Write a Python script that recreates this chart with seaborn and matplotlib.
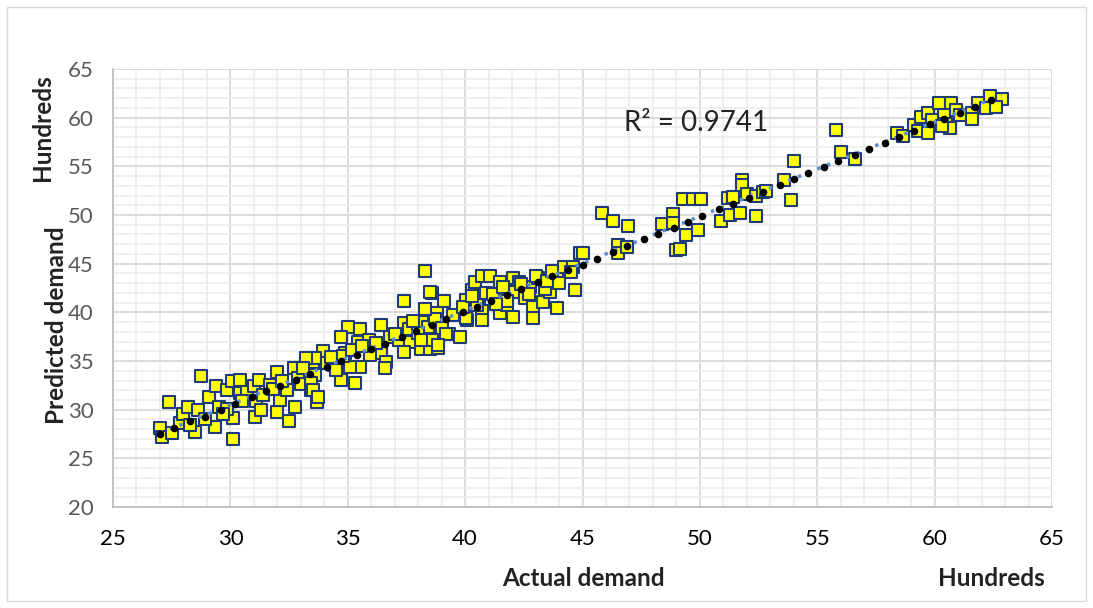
import numpy as np
import pandas as pd
import matplotlib
matplotlib.use("Agg")
import matplotlib.pyplot as plt
from matplotlib.ticker import MultipleLocator
from matplotlib.patches import Rectangle
import seaborn as sns

# actual demand vs predicted demand (hundreds)
actual = [
    27.0, 27.1, 27.5, 27.4, 27.85, 28.0, 28.2, 28.5, 28.6, 28.75, 29.1, 29.4, 29.35, 29.5, 29.85,
    30.05, 30.4, 30.1, 30.1, 29.85, 30.4, 30.7, 31.0, 31.1, 31.2, 31.7, 31.05, 31.3, 32.0, 32.1,
    32.0, 32.4, 32.5, 32.75, 32.7, 33.1, 33.5, 33.6, 33.7, 33.25, 33.45, 28.3, 28.9, 29.7, 30.5,
    31.4, 31.8, 32.2, 32.9, 33.0,
    37.4, 38.6, 39.1, 38.3, 38.8, 35.0, 35.5, 34.7, 35.45, 35.9, 36.4, 37.4, 37.8, 38.15, 38.4,
    36.4, 36.8, 37.2, 37.65, 38.15, 38.6, 38.1, 38.5, 38.85, 39.3, 39.8, 40.1, 37.4, 36.4, 36.65,
    36.6, 35.95, 35.5, 35.1, 34.9, 34.4, 33.95, 33.6, 33.2, 33.1, 34.7, 35.3, 33.45, 33.5, 33.75,
    34.1, 34.3, 34.5, 34.8, 35.2, 35.6, 36.2, 37.0, 37.6, 38.0, 38.7, 39.0, 39.5,
    38.3, 38.5, 38.3, 37.8, 39.2, 38.6, 38.1, 38.85, 40.05, 40.3, 40.4, 40.7, 41.05, 41.5, 40.6,
    40.05, 40.7, 40.7, 41.5, 41.8, 42.05, 42.05, 42.3, 42.1, 42.55, 42.75, 42.9, 42.9, 43.1, 43.3,
    43.6, 43.9, 43.9, 44.2, 44.6, 44.7, 44.9, 43.4, 43.0, 40.5, 40.9, 41.2, 41.6, 41.8, 42.4,
    42.7, 43.5, 43.7, 44.0, 44.5, 39.9, 40.3, 41.3,
    45.0, 45.85, 46.3, 46.95, 46.5, 46.5, 46.9, 48.4, 48.85, 48.85, 49.3, 49.7, 50.05, 49.4, 49.9,
    49.0, 49.15, 50.9, 51.2, 51.3, 51.4, 51.7, 51.8, 51.8, 52.0, 52.4, 52.4, 52.7, 52.8, 53.6,
    53.9, 54.0, 55.8, 56.0, 56.6,
    58.4, 58.65, 59.1, 59.4, 59.7, 59.3, 59.7, 60.2, 60.7, 60.4, 60.5, 60.65, 60.9, 61.1, 61.6,
    61.6, 61.85, 62.2, 62.35, 62.85, 62.6, 59.9, 60.3,
]
predicted = [
    28.1, 27.2, 27.6, 30.8, 28.6, 29.6, 30.3, 27.7, 30.0, 33.5, 31.3, 32.4, 28.2, 30.3, 32.0,
    32.9, 33.1, 29.2, 27.0, 30.1, 31.7, 31.85, 32.4, 30.9, 33.05, 32.5, 29.3, 30.0, 29.8, 31.0,
    33.9, 32.0, 28.8, 30.3, 34.25, 34.1, 34.9, 33.6, 30.8, 32.7, 32.0, 28.4, 29.0, 29.6, 30.9,
    31.5, 32.1, 33.0, 33.3, 32.6,
    41.2, 42.0, 41.2, 40.3, 39.9, 38.5, 38.25, 37.5, 37.0, 37.2, 38.7, 38.9, 38.9, 39.0, 38.5,
    36.6, 37.5, 37.2, 37.0, 37.2, 37.2, 36.2, 36.2, 36.3, 37.8, 37.5, 39.2, 35.95, 35.8, 34.9,
    34.25, 35.6, 34.4, 34.4, 35.8, 34.6, 36.0, 35.3, 35.3, 34.25, 33.1, 32.7, 32.7, 32.0, 31.3,
    34.8, 35.4, 34.1, 35.5, 36.1, 36.5, 36.9, 37.8, 38.3, 37.9, 39.3, 38.4, 39.7,
    44.3, 42.1, 40.3, 39.1, 37.8, 37.2, 37.15, 36.6, 41.3, 42.3, 43.15, 43.7, 43.7, 43.15, 41.3,
    39.4, 40.1, 39.2, 39.9, 40.75, 39.55, 43.5, 43.15, 42.1, 41.45, 42.65, 40.6, 39.4, 43.5, 41.1,
    42.1, 43.85, 40.5, 44.7, 44.7, 42.3, 46.1, 42.45, 43.7, 40.8, 42.0, 41.9, 42.6, 41.2, 42.9,
    41.9, 43.2, 44.3, 43.0, 44.1, 40.6, 41.7, 40.9,
    46.1, 50.2, 49.4, 48.9, 46.9, 46.1, 46.7, 49.1, 50.1, 49.2, 51.6, 51.6, 51.6, 47.9, 48.5,
    46.4, 46.5, 49.4, 51.7, 50.0, 51.9, 50.2, 53.6, 53.1, 52.2, 52.0, 49.9, 52.4, 52.5, 53.6,
    51.5, 55.5, 58.7, 56.5, 55.75,
    58.4, 58.1, 59.2, 60.1, 60.5, 58.6, 58.4, 61.5, 61.5, 60.3, 59.4, 58.9, 60.8, 60.3, 60.5,
    59.9, 61.5, 61.0, 62.2, 61.9, 61.1, 59.8, 59.1,
]

# black dots sitting on the fitted line
fit_x = [27.0, 27.6, 28.3, 28.9, 29.6, 30.2, 30.9, 31.5, 32.1, 32.8, 33.4, 34.1, 34.7, 35.4,
         36.0, 36.6, 37.3, 37.9, 38.6, 39.2, 39.9, 40.5, 41.1, 41.8, 42.4, 43.1, 43.7, 44.4,
         45.0, 45.6, 46.3, 46.9, 47.6, 48.2, 48.9, 49.5, 50.1, 50.8, 51.4, 52.1, 52.7, 53.4,
         54.0, 54.6, 55.3, 55.9, 56.6, 57.2, 57.9, 58.5, 59.1, 59.8, 60.4, 61.1, 61.7, 62.4]
fit_y = [27.5, 28.1, 28.8, 29.3, 30.0, 30.6, 31.3, 31.9, 32.4, 33.1, 33.7, 34.4, 35.0, 35.6,
         36.2, 36.8, 37.5, 38.1, 38.7, 39.3, 40.0, 40.6, 41.2, 41.8, 42.4, 43.1, 43.7, 44.4,
         44.9, 45.5, 46.2, 46.8, 47.5, 48.0, 48.7, 49.3, 49.9, 50.6, 51.1, 51.8, 52.4, 53.1,
         53.7, 54.3, 54.9, 55.5, 56.2, 56.8, 57.4, 58.0, 58.6, 59.3, 59.9, 60.5, 61.1, 61.8]

r2_label = "R² = 0.9741"

df = pd.DataFrame({"actual": actual, "predicted": predicted})
fit = pd.DataFrame({"x": fit_x, "y": fit_y})

sns.set_style("white")
plt.rcParams['font.family'] = ['Lato', 'DejaVu Sans']

fig = plt.figure(figsize=(10.93, 6.08), dpi=100)
ax = fig.add_axes([0.1034, 0.166, 0.8591, 0.7205])

# grid, major every 5 and minor every 1
ax.xaxis.set_major_locator(MultipleLocator(5))
ax.yaxis.set_major_locator(MultipleLocator(5))
ax.xaxis.set_minor_locator(MultipleLocator(1))
ax.yaxis.set_minor_locator(MultipleLocator(1))
ax.grid(which='major', color='#d9d9d9', linewidth=1.3, zorder=0)
ax.grid(which='minor', color='#ececec', linewidth=1.2, zorder=0)
ax.set_axisbelow(True)

sns.scatterplot(data=df, x="actual", y="predicted", marker="s", s=68,
                color="#ffff00", edgecolor="#1f3a78", linewidth=1.5, ax=ax, zorder=2)
sns.regplot(data=df, x="actual", y="predicted", scatter=False, ci=None, ax=ax,
            line_kws=dict(color="#5b8fd0", linestyle=(0, (1, 2)), linewidth=2.5, zorder=3))
sns.scatterplot(data=fit, x="x", y="y", s=30, color="black", edgecolor="black",
                linewidth=0, ax=ax, zorder=4)

ax.set_xlim(25, 65)
ax.set_ylim(20, 65)
ax.set_xlabel("")
ax.set_ylabel("")
ax.tick_params(which='both', length=0, labelsize=16)
ax.tick_params(axis='y', colors='#595959', pad=14)
ax.tick_params(axis='x', colors='black', pad=16)
for side in ['top', 'right']:
    ax.spines[side].set_visible(False)
for side in ['left', 'bottom']:
    ax.spines[side].set_color('#bfbfbf')
    ax.spines[side].set_linewidth(1.3)

ax.text(46.75, 59.45, r2_label, fontsize=20, color='#222222', va='center', ha='left')

fig.text(583 / 1093, 1 - 578 / 608, "Actual demand", fontsize=17.5, fontweight='bold',
         ha='center', va='center', color='#222222')
fig.text(991 / 1093, 1 - 578 / 608, "Hundreds", fontsize=17.5, fontweight='bold',
         ha='center', va='center', color='#222222')
fig.text(57 / 1093, 1 - 325 / 608, "Predicted demand", fontsize=17.5, fontweight='bold',
         rotation=90, ha='center', va='center', color='#222222')
fig.text(42 / 1093, 1 - 128 / 608, "Hundreds", fontsize=17.5, fontweight='bold',
         rotation=90, ha='center', va='center', color='#222222')

# outer chart border
fig.patches.append(Rectangle((7 / 1093, 7 / 608), 1 - 14 / 1093, 1 - 14 / 608,
                             transform=fig.transFigure, fill=False,
                             edgecolor='#d9d9d9', linewidth=1))

fig.savefig("out.png", dpi=100)
